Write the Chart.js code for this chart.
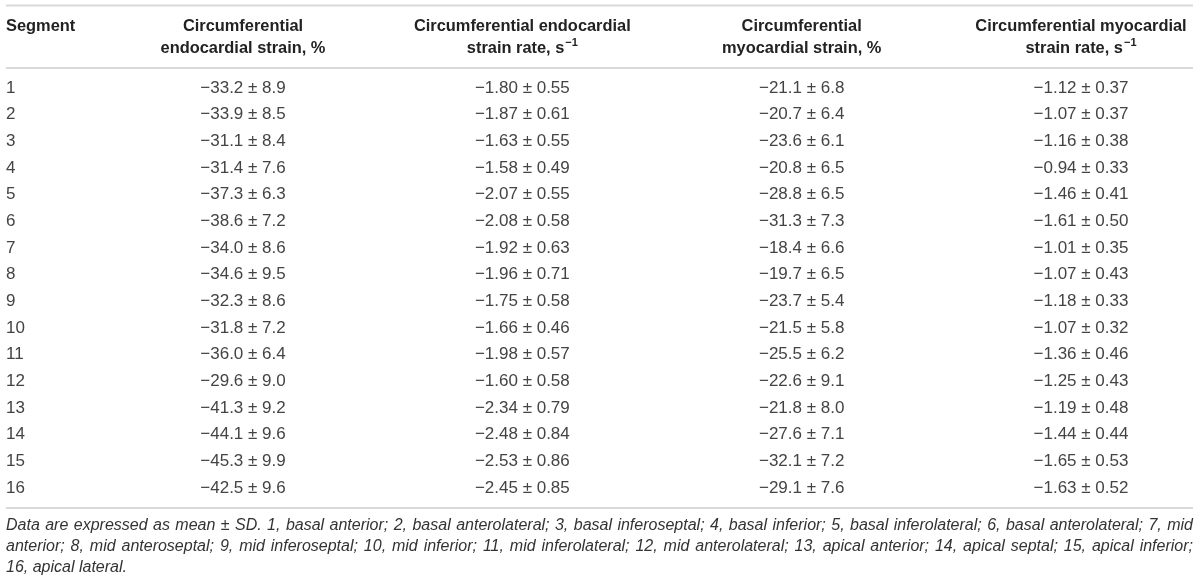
<!DOCTYPE html>
<html><head><meta charset="utf-8">
<script src="https://cdn.jsdelivr.net/npm/chart.js@4.4.1/dist/chart.umd.min.js"></script>
<style>html,body{margin:0;padding:0;background:#fff;}#wrap{width:1200px;height:581px;}</style>
</head><body><div id="wrap"><canvas id="c" width="1200" height="581"></canvas></div>
<script>
// ---- data ----
const segments = ['1','2','3','4','5','6','7','8','9','10','11','12','13','14','15','16'];
const endoStrainMean = [-33.2,-33.9,-31.1,-31.4,-37.3,-38.6,-34.0,-34.6,-32.3,-31.8,-36.0,-29.6,-41.3,-44.1,-45.3,-42.5];
const endoStrainSD   = [8.9,8.5,8.4,7.6,6.3,7.2,8.6,9.5,8.6,7.2,6.4,9.0,9.2,9.6,9.9,9.6];
const endoRateMean   = [-1.80,-1.87,-1.63,-1.58,-2.07,-2.08,-1.92,-1.96,-1.75,-1.66,-1.98,-1.60,-2.34,-2.48,-2.53,-2.45];
const endoRateSD     = [0.55,0.61,0.55,0.49,0.55,0.58,0.63,0.71,0.58,0.46,0.57,0.58,0.79,0.84,0.86,0.85];
const myoStrainMean  = [-21.1,-20.7,-23.6,-20.8,-28.8,-31.3,-18.4,-19.7,-23.7,-21.5,-25.5,-22.6,-21.8,-27.6,-32.1,-29.1];
const myoStrainSD    = [6.8,6.4,6.1,6.5,6.5,7.3,6.6,6.5,5.4,5.8,6.2,9.1,8.0,7.1,7.2,7.6];
const myoRateMean    = [-1.12,-1.07,-1.16,-0.94,-1.46,-1.61,-1.01,-1.07,-1.18,-1.07,-1.36,-1.25,-1.19,-1.44,-1.65,-1.63];
const myoRateSD      = [0.37,0.37,0.38,0.33,0.41,0.50,0.35,0.43,0.33,0.32,0.46,0.43,0.48,0.44,0.53,0.52];

const segmentHeader = 'Segment';
const columnHeaders = [
  ['Circumferential', 'endocardial strain, %'],
  ['Circumferential endocardial', 'strain rate, s|−1'],
  ['Circumferential', 'myocardial strain, %'],
  ['Circumferential myocardial', 'strain rate, s|−1']
];
const columnDecimals = [1, 2, 1, 2];
const footnoteLines = [
  'Data are expressed as mean ± SD. 1, basal anterior; 2, basal anterolateral; 3, basal inferoseptal; 4, basal inferior; 5, basal inferolateral; 6, basal anterolateral; 7, mid',
  'anterior; 8, mid anteroseptal; 9, mid inferoseptal; 10, mid inferior; 11, mid inferolateral; 12, mid anterolateral; 13, apical anterior; 14, apical septal; 15, apical inferior;',
  '16, apical lateral.'
];

// ---- build ----
const columns = [
  {mean: endoStrainMean, sd: endoStrainSD},
  {mean: endoRateMean, sd: endoRateSD},
  {mean: myoStrainMean, sd: myoStrainSD},
  {mean: myoRateMean, sd: myoRateSD}
];
function fmt(m, s, d) {
  const sign = m < 0 ? '−' : '';
  return sign + Math.abs(m).toFixed(d) + ' ± ' + s.toFixed(d);
}
const datasets = columns.map((c, k) => ({
  label: columnHeaders[k].join(' '),
  data: segments.map((s, i) => ({x: k + 1, y: i + 1})),
  cellText: c.mean.map((m, i) => fmt(m, c.sd[i], columnDecimals[k])),
  pointRadius: 0, pointHoverRadius: 0, showLine: false
}));

const FONT = '"Liberation Sans", Arial, Helvetica, sans-serif';
const RULE = '#d9d9d9';

const tablePlugin = {
  id: 'tablePlugin',
  afterDatasetsDraw(chart) {
    const ctx = chart.ctx, ca = chart.chartArea;
    const xs = chart.scales.x, ys = chart.scales.y;
    ctx.save();
    // rules
    ctx.strokeStyle = RULE; ctx.lineWidth = 2;
    [ca.top - 62.5, ca.top, ca.bottom].forEach(yy => {
      ctx.beginPath(); ctx.moveTo(ca.left, yy); ctx.lineTo(ca.right, yy); ctx.stroke();
    });
    // header
    ctx.fillStyle = '#222';
    ctx.textBaseline = 'middle';
    const HF = 'bold 16.4px ' + FONT, SF = 'bold 11px ' + FONT;
    ctx.font = HF;
    ctx.textAlign = 'left';
    const hy = [ca.top - 42, ca.top - 20];
    ctx.fillText(segmentHeader, ca.left, hy[0]);
    columnHeaders.forEach((lines, k) => {
      const cx = xs.getPixelForValue(k + 1);
      lines.forEach((ln, j) => {
        const parts = ln.split('|');
        ctx.font = HF;
        const w0 = ctx.measureText(parts[0]).width;
        let w1 = 0;
        if (parts[1]) { ctx.font = SF; w1 = ctx.measureText(parts[1]).width + 1; }
        const x0 = cx - (w0 + w1) / 2;
        ctx.font = HF;
        ctx.textAlign = 'left';
        ctx.fillText(parts[0], x0, hy[j]);
        if (parts[1]) {
          ctx.font = SF;
          ctx.fillText(parts[1], x0 + w0 + 1, hy[j] - 5);
        }
      });
    });
    // segment labels
    ctx.fillStyle = '#444';
    ctx.font = '17px ' + FONT;
    ctx.textAlign = 'left';
    segments.forEach((s, i) => ctx.fillText(s, ca.left, ys.getPixelForValue(i + 1)));
    // cells
    ctx.textAlign = 'center';
    chart.data.datasets.forEach((ds, d) => {
      const meta = chart.getDatasetMeta(d);
      meta.data.forEach((pt, i) => ctx.fillText(ds.cellText[i], pt.x, pt.y));
    });
    // footnote (justified)
    ctx.fillStyle = '#333';
    ctx.font = 'italic 16px ' + FONT;
    ctx.textAlign = 'left';
    const W = ca.right - ca.left;
    const fy = [ca.bottom + 17.5, ca.bottom + 39, ca.bottom + 59.5];
    footnoteLines.forEach((ln, j) => {
      const words = ln.split(' ');
      const widths = words.map(w => ctx.measureText(w).width);
      const total = widths.reduce((a, b) => a + b, 0);
      const space = ctx.measureText(' ').width;
      let gap = space;
      if (j < footnoteLines.length - 1) gap = (W - total) / (words.length - 1);
      let x = ca.left;
      words.forEach((w, i) => { ctx.fillText(w, x, fy[j]); x += widths[i] + gap; });
    });
    ctx.restore();
  }
};

new Chart(document.getElementById('c'), {
  type: 'scatter',
  data: {datasets},
  options: {
    responsive: false,
    animation: false,
    layout: {padding: {top: 68, bottom: 73, left: 6, right: 7}},
    plugins: {legend: {display: false}, tooltip: {enabled: false}},
    events: [],
    scales: {
      x: {type: 'linear', display: false, min: 0.1515, max: 4.401},
      y: {type: 'linear', display: false, min: 0.25, max: 16.75, reverse: true}
    }
  },
  plugins: [tablePlugin]
});
</script>
</body></html>
